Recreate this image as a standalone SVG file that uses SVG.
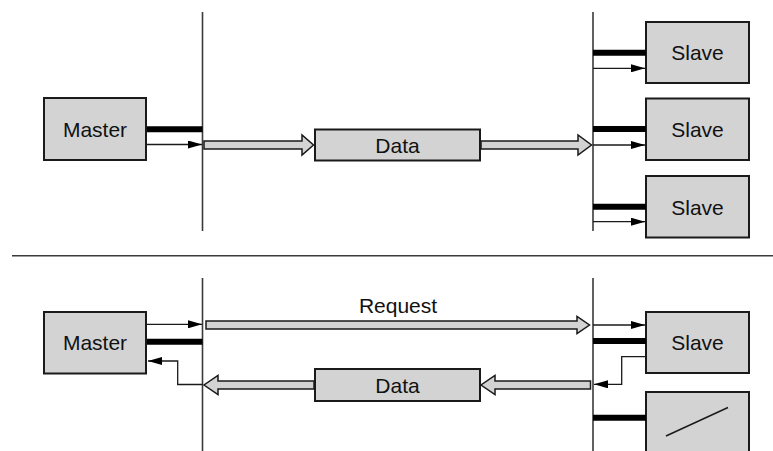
<svg xmlns="http://www.w3.org/2000/svg" width="773" height="451" viewBox="0 0 773 451">
<defs>
<style>
.box{fill:#d3d3d3;stroke:#1a1a1a;stroke-width:2}
.bus{stroke:#3a3a3a;stroke-width:1.6;fill:none}
.thick{stroke:#000;stroke-width:6}
.thin{stroke:#1a1a1a;stroke-width:1.3;fill:none}
.hollow{fill:#d3d3d3;stroke:#1a1a1a;stroke-width:1.5;stroke-linejoin:miter}
.lbl{font-family:"Liberation Sans",Arial,sans-serif;font-size:21px;fill:#111;text-anchor:middle}
</style>
<marker id="ah" markerWidth="14" markerHeight="8" refX="14" refY="4" orient="auto" markerUnits="userSpaceOnUse">
<path d="M0,0 L14,4 L0,8 Z" fill="#000"/>
</marker>
</defs>
<rect width="773" height="451" fill="#fff"/>

<!-- buses and divider -->
<g id="buses">
<line class="bus" x1="202.5" y1="12" x2="202.5" y2="231"/>
<line class="bus" x1="593" y1="12" x2="593" y2="231"/>
<line class="bus" x1="12" y1="255.7" x2="773" y2="255.7"/>
<line class="bus" x1="202.5" y1="278" x2="202.5" y2="451"/>
<line class="bus" x1="593" y1="278" x2="593" y2="451"/>
</g>

<!-- top section nodes -->
<g id="master-top">
<rect class="box" x="44" y="98" width="102" height="62"/>
<text class="lbl" x="95" y="136.5">Master</text>
</g>
<g id="data-top">
<rect class="box" x="315" y="129.5" width="165" height="31"/>
<text class="lbl" x="397.5" y="152.5">Data</text>
</g>
<g id="slave-1">
<rect class="box" x="646" y="22" width="103" height="61"/>
<text class="lbl" x="697.5" y="60">Slave</text>
</g>
<g id="slave-2">
<rect class="box" x="646" y="98.5" width="103" height="61.5"/>
<text class="lbl" x="697.5" y="137">Slave</text>
</g>
<g id="slave-3">
<rect class="box" x="646" y="176" width="103" height="61.5"/>
<text class="lbl" x="697.5" y="214.5">Slave</text>
</g>

<!-- bottom section nodes -->
<g id="master-bottom">
<rect class="box" x="44" y="312" width="102" height="61.5"/>
<text class="lbl" x="95" y="350">Master</text>
</g>
<g id="request-label">
<text class="lbl" x="398" y="313">Request</text>
</g>
<g id="data-bottom">
<rect class="box" x="315" y="369" width="165" height="32"/>
<text class="lbl" x="397.5" y="392.5">Data</text>
</g>
<g id="slave-4">
<rect class="box" x="646" y="312" width="103" height="61"/>
<text class="lbl" x="697.5" y="350">Slave</text>
</g>
<g id="slave-5">
<rect class="box" x="646" y="392" width="103" height="70"/>
<line x1="666" y1="436" x2="728" y2="407.5" stroke="#1a1a1a" stroke-width="1.5"/>
</g>

<!-- connectors -->
<g id="connectors">
<!-- top master -->
<line class="thick" x1="147" y1="129.3" x2="202.5" y2="129.3"/>
<line class="thin" x1="147" y1="144.5" x2="202" y2="144.5" marker-end="url(#ah)"/>
<polygon class="hollow" points="204,141 302,141 302,135 313.5,145 302,155 302,149 204,149"/>
<polygon class="hollow" points="481,141 578,141 578,135 591.5,145 578,155 578,149 481,149"/>
<!-- top slaves -->
<line class="thick" x1="593" y1="52.7" x2="646" y2="52.7"/>
<line class="thin" x1="593" y1="68.3" x2="645" y2="68.3" marker-end="url(#ah)"/>
<line class="thick" x1="593" y1="129" x2="646" y2="129"/>
<line class="thin" x1="593" y1="145" x2="645" y2="145" marker-end="url(#ah)"/>
<line class="thick" x1="593" y1="206.7" x2="646" y2="206.7"/>
<line class="thin" x1="593" y1="221.7" x2="645" y2="221.7" marker-end="url(#ah)"/>

<!-- bottom master -->
<line class="thin" x1="147" y1="324.3" x2="202" y2="324.3" marker-end="url(#ah)"/>
<line class="thick" x1="147" y1="341.7" x2="202.5" y2="341.7"/>
<polyline class="thin" points="202.5,384.5 177.7,384.5 177.7,361 148,361" marker-end="url(#ah)"/>
<!-- request -->
<polygon class="hollow" points="206,321 577,321 577,316.5 589.5,325 577,333.5 577,329 206,329"/>
<!-- data back -->
<polygon class="hollow" points="590.5,381 495,381 495,375.5 481,385 495,394.5 495,389 590.5,389"/>
<polygon class="hollow" points="314,381 218,381 218,375.5 204,385 218,394.5 218,389 314,389"/>
<!-- bottom slaves -->
<line class="thin" x1="593" y1="325" x2="645" y2="325" marker-end="url(#ah)"/>
<line class="thick" x1="593" y1="341" x2="646" y2="341"/>
<polyline class="thin" points="646,356.7 621.7,356.7 621.7,384.3 594,384.3" marker-end="url(#ah)"/>
<line class="thick" x1="593" y1="417.7" x2="646" y2="417.7"/>
</g>
</svg>
